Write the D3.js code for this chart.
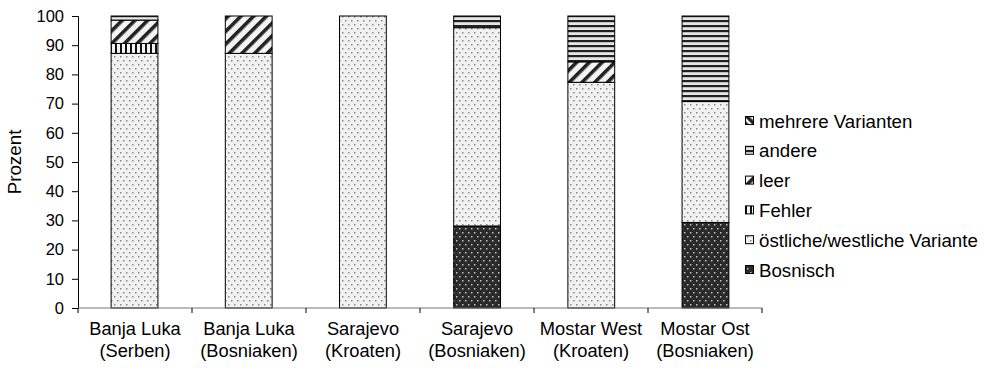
<!DOCTYPE html>
<html>
<head>
<meta charset="utf-8">
<script src="https://cdn.jsdelivr.net/npm/d3@7"></script>
<style>
  html, body { margin: 0; padding: 0; background: #fff; }
  svg { display: block; font-family: "Liberation Sans", Arial, sans-serif; }
</style>
</head>
<body>
<svg id="chart" width="985" height="370"></svg>
<script>
// Groups (two-line labels) and stacked shares in percent
const categories = [
  ["Banja Luka", "(Serben)"],
  ["Banja Luka", "(Bosniaken)"],
  ["Sarajevo", "(Kroaten)"],
  ["Sarajevo", "(Bosniaken)"],
  ["Mostar West", "(Kroaten)"],
  ["Mostar Ost", "(Bosniaken)"]
];
const seriesNames = ["Bosnisch", "östliche/westliche Variante", "Fehler", "leer", "andere", "mehrere Varianten"];
const bosnisch  = [0, 0, 0, 28.1, 0, 29.3];
const oestlich  = [87.2, 87.2, 100, 67.9, 77.3, 41.4];
const fehler    = [3.4, 0, 0, 0, 0, 0];
const leer      = [8.0, 12.8, 0, 0, 7.0, 0];
const andere    = [1.4, 0, 0, 4.0, 15.7, 29.3];
const mehrere   = [0, 0, 0, 0, 0, 0];
const yTicks = [0, 10, 20, 30, 40, 50, 60, 70, 80, 90, 100];

const seriesValues = [bosnisch, oestlich, fehler, leer, andere, mehrere];
const patternIds = ["pBos", "pOst", "pFeh", "pLeer", "pAnd", "pMehr"];

const svg = d3.select("#chart");
const margin = { left: 78, top: 16, right: 223, bottom: 62 };
const W = 985, H = 370;

const x = d3.scaleBand().domain(d3.range(categories.length))
  .range([margin.left, W - margin.right]).paddingInner(0.59).paddingOuter(0.29);
const xOuter = d3.scaleBand().domain(d3.range(categories.length))
  .range([margin.left, W - margin.right]);
const y = d3.scaleLinear().domain([0, 100]).range([H - margin.bottom, margin.top]);

// Fill patterns
const defs = svg.append("defs");
function dotPattern(id, bg, dot) {
  const p = defs.append("pattern").attr("id", id).attr("patternUnits", "userSpaceOnUse")
    .attr("width", 6).attr("height", 8);
  p.append("rect").attr("width", 6).attr("height", 8).attr("fill", bg);
  p.append("rect").attr("x", 0).attr("y", 0).attr("width", 1.5).attr("height", 1.5).attr("fill", dot);
  p.append("rect").attr("x", 3).attr("y", 4).attr("width", 1.5).attr("height", 1.5).attr("fill", dot);
}
dotPattern("pOst", "#f1f1f1", "#888");
dotPattern("pBos", "#2a2a2a", "#c4c4c4");

const pLeer = defs.append("pattern").attr("id", "pLeer").attr("patternUnits", "userSpaceOnUse")
  .attr("width", 9).attr("height", 9).attr("patternTransform", "rotate(45)");
pLeer.append("rect").attr("width", 9).attr("height", 9).attr("fill", "#f4f4f4");
pLeer.append("rect").attr("width", 3.6).attr("height", 9).attr("fill", "#222");

const pMehr = defs.append("pattern").attr("id", "pMehr").attr("patternUnits", "userSpaceOnUse")
  .attr("width", 6).attr("height", 6).attr("patternTransform", "rotate(-45)");
pMehr.append("rect").attr("width", 6).attr("height", 6).attr("fill", "#f4f4f4");
pMehr.append("rect").attr("width", 3.5).attr("height", 6).attr("fill", "#222");

const pFeh = defs.append("pattern").attr("id", "pFeh").attr("patternUnits", "userSpaceOnUse")
  .attr("width", 5).attr("height", 5);
pFeh.append("rect").attr("width", 5).attr("height", 5).attr("fill", "#f4f4f4");
pFeh.append("rect").attr("width", 2).attr("height", 5).attr("fill", "#111");

const pAnd = defs.append("pattern").attr("id", "pAnd").attr("patternUnits", "userSpaceOnUse")
  .attr("width", 5).attr("height", 5);
pAnd.append("rect").attr("width", 5).attr("height", 5).attr("fill", "#e6e6e6");
pAnd.append("rect").attr("width", 5).attr("height", 2.2).attr("fill", "#222");

// Stacked data
const rows = categories.map((c, i) => {
  const r = { idx: i };
  seriesNames.forEach((s, k) => r[s] = seriesValues[k][i]);
  return r;
});
const stacked = d3.stack().keys(seriesNames)(rows);

const gBars = svg.append("g");
stacked.forEach((layer, k) => {
  gBars.selectAll(null).data(layer.filter(d => d[1] - d[0] > 0)).enter().append("rect")
    .attr("x", d => x(d.data.idx))
    .attr("width", x.bandwidth())
    .attr("y", d => y(d[1]))
    .attr("height", d => y(d[0]) - y(d[1]))
    .attr("fill", `url(#${patternIds[k]})`)
    .attr("stroke", "#000").attr("stroke-width", 1);
});

// Y axis
const yAxis = d3.axisLeft(y).tickValues(yTicks).tickSize(6).tickPadding(8);
const gy = svg.append("g").attr("transform", `translate(${margin.left},0)`).call(yAxis);
gy.select(".domain").attr("stroke", "#000");
gy.selectAll(".tick line").attr("stroke", "#000");
gy.selectAll(".tick text").attr("font-size", 16.5).attr("fill", "#000")
  .attr("font-family", "Liberation Sans, Arial, sans-serif");

// X axis: baseline with ticks between groups
const gx = svg.append("g");
gx.append("line").attr("x1", margin.left).attr("x2", W - margin.right)
  .attr("y1", y(0)).attr("y2", y(0)).attr("stroke", "#777");
const boundaries = d3.range(categories.length + 1).map(i =>
  i < categories.length ? xOuter(i) : xOuter(i - 1) + xOuter.bandwidth());
gx.selectAll(null).data(boundaries).enter().append("line")
  .attr("x1", d => d).attr("x2", d => d)
  .attr("y1", y(0)).attr("y2", y(0) + 5).attr("stroke", "#000");
categories.forEach((c, i) => {
  const cx = xOuter(i) + xOuter.bandwidth() / 2;
  const t = gx.append("text").attr("x", cx)
    .attr("text-anchor", "middle").attr("font-size", 18.3).attr("fill", "#000");
  t.append("tspan").attr("x", cx).attr("y", 334.5).text(c[0]);
  t.append("tspan").attr("x", cx).attr("y", 357).text(c[1]);
});

// Y axis title
svg.append("text").attr("transform", `translate(21,${(y(0) + y(100)) / 2}) rotate(-90)`)
  .attr("text-anchor", "middle").attr("font-size", 18.8).attr("fill", "#000").text("Prozent");

// Legend, top entry is the last series
const legend = svg.append("g");
const legendOrder = seriesNames.slice().reverse();
legendOrder.forEach((s, i) => {
  const k = seriesNames.indexOf(s);
  const yy = 121 + i * 29.8;
  legend.append("rect").attr("x", 745.5).attr("y", yy - 4.5).attr("width", 8).attr("height", 8)
    .attr("fill", `url(#${patternIds[k]})`).attr("stroke", "#000").attr("stroke-width", 1);
  legend.append("text").attr("x", 759).attr("y", yy + 6.5).attr("font-size", 18.7)
    .attr("fill", "#000").text(s);
});
</script>
</body>
</html>
